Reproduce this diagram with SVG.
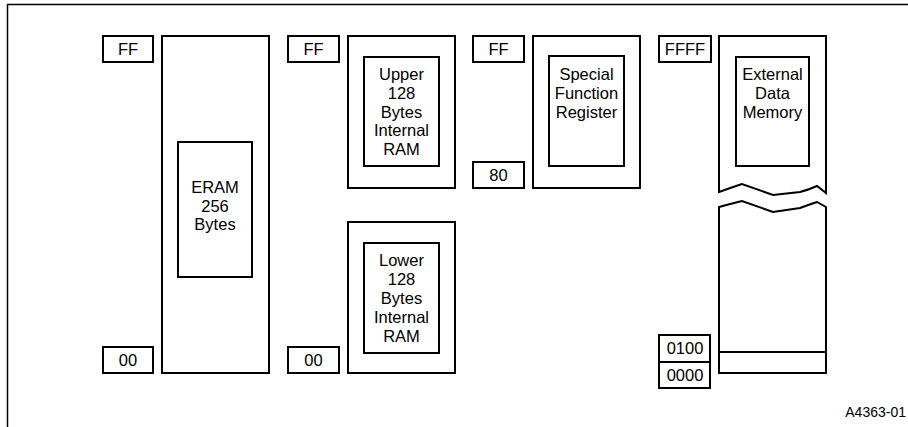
<svg xmlns="http://www.w3.org/2000/svg" width="908" height="427" viewBox="0 0 908 427">
<style>
.b{fill:#fff;stroke:#000;stroke-width:2}
.i{fill:none;stroke:#000;stroke-width:2}
text{font-family:"Liberation Sans",Arial,sans-serif;font-size:16.5px;fill:#000;text-anchor:middle}
.id{font-size:14px;text-anchor:end}
</style>
<rect width="908" height="427" fill="#fff"/>
<path d="M7.5,427 V4.5 H908" fill="none" stroke="#000" stroke-width="1.5"/>

<g id="eram">
<rect class="b" x="103" y="36" width="50" height="26"/><text x="128" y="55">FF</text>
<rect class="b" x="103" y="347" width="50" height="26"/><text x="128" y="366">00</text>
<rect class="b" x="162" y="36" width="107" height="337"/>
<rect class="i" x="178" y="142" width="74" height="135"/>
<text x="215" y="193">ERAM</text><text x="215" y="211.5">256</text><text x="215" y="230">Bytes</text>
</g>

<g id="upper-ram">
<rect class="b" x="288" y="36" width="51" height="26"/><text x="313.5" y="55">FF</text>
<rect class="b" x="348" y="36" width="107" height="152"/>
<rect class="i" x="364" y="57" width="75" height="109"/>
<text x="401.5" y="80">Upper</text><text x="401.5" y="98.75">128</text><text x="401.5" y="117.5">Bytes</text><text x="401.5" y="136.25">Internal</text><text x="401.5" y="155">RAM</text>
</g>

<g id="lower-ram">
<rect class="b" x="288" y="347" width="51" height="26"/><text x="313.5" y="366">00</text>
<rect class="b" x="348" y="222" width="107" height="151"/>
<rect class="i" x="364" y="243" width="75" height="110"/>
<text x="401.5" y="266">Lower</text><text x="401.5" y="285">128</text><text x="401.5" y="304">Bytes</text><text x="401.5" y="323">Internal</text><text x="401.5" y="342">RAM</text>
</g>

<g id="sfr">
<rect class="b" x="473" y="36" width="51" height="26"/><text x="498.5" y="55">FF</text>
<rect class="b" x="473" y="162" width="51" height="26"/><text x="498.5" y="181">80</text>
<rect class="b" x="533" y="36" width="107" height="152"/>
<rect class="i" x="549" y="56" width="75" height="110"/>
<text x="586.5" y="80">Special</text><text x="586.5" y="98.75">Function</text><text x="586.5" y="117.5">Register</text>
</g>

<g id="external">
<rect class="b" x="659" y="36" width="52" height="26"/><text x="685" y="55">FFFF</text>
<path class="b" d="M719,36 H826 V193 L817,186 Q808,190 800,192 L773,195 L742,184 Q730,188 719,192 Z"/>
<rect class="i" x="736" y="57" width="73" height="109"/>
<text x="772.5" y="80">External</text><text x="772.5" y="98.75">Data</text><text x="772.5" y="117.5">Memory</text>
<path class="b" d="M719,373 V207 Q730,204 742,201 L773,212 L800,208 Q808,205 817,202 L826,207 V373 Z"/>
<line class="i" x1="719" y1="352" x2="826" y2="352"/>
<rect class="b" x="659" y="335" width="51" height="27"/><text x="685" y="354">0100</text>
<rect class="b" x="659" y="362" width="51" height="26"/><text x="685" y="380.5">0000</text>
</g>

<text class="id" x="906" y="417">A4363-01</text>
</svg>
